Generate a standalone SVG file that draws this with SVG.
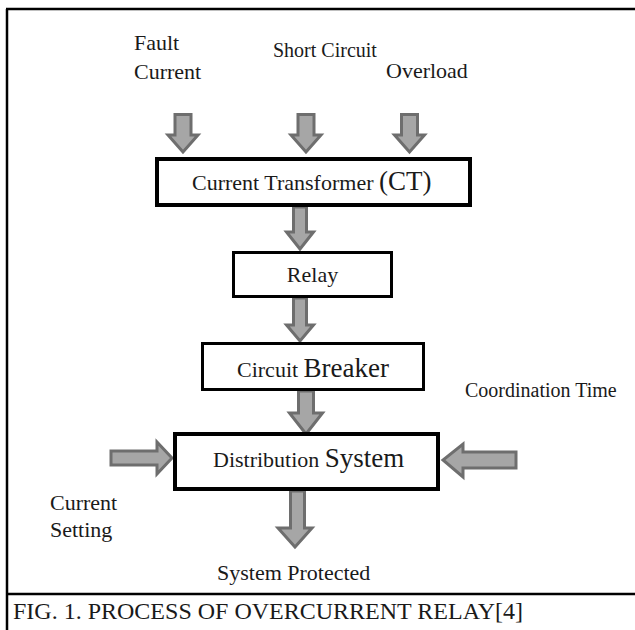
<svg xmlns="http://www.w3.org/2000/svg" width="635" height="630" viewBox="0 0 635 630">
<style>
  text { font-family: "Liberation Serif", "Times New Roman", serif; fill: #1a1a1a; }
  .t22 { font-size: 22px; }
  .t20 { font-size: 20px; }
  .t27 { font-size: 27px; }
  .box { fill: #ffffff; stroke: #000000; }
  .arr { fill: #a6a6a6; stroke: #6e6e6e; stroke-width: 3; stroke-linejoin: miter; }
  .frame { stroke: #000000; stroke-width: 2.5; fill: none; }
</style>
<rect x="0" y="0" width="635" height="630" fill="#ffffff"/>
<g id="frame">
  <line class="frame" x1="7" y1="9" x2="7" y2="630"/>
  <line class="frame" x1="6" y1="9" x2="635" y2="9"/>
  <line class="frame" x1="6" y1="594" x2="635" y2="594"/>
</g>
<g id="connectors">
  <!-- inputs to CT -->
  <path class="arr" d="M175,114.5 H191 V135 H198 L183,152 L168,135 H175 Z"/>
  <path class="arr" d="M298,114.5 H314 V135 H321 L306,152 L291,135 H298 Z"/>
  <path class="arr" d="M401.5,114.5 H417.5 V135 H424.5 L409.5,152 L394.5,135 H401.5 Z"/>
  <!-- CT to Relay -->
  <path class="arr" d="M293.5,207 H306.5 V232 H313.5 L300,249 L286.5,232 H293.5 Z"/>
  <!-- Relay to CB -->
  <path class="arr" d="M293.5,298 H306.5 V325 H313.5 L300,341 L286.5,325 H293.5 Z"/>
  <!-- CB to DS -->
  <path class="arr" d="M298.5,391 H313.5 V413 H322.5 L306,434 L289.5,413 H298.5 Z"/>
  <!-- DS to System Protected -->
  <path class="arr" d="M290.5,491 H304.5 V528 H312 L295,547 L278,528 H290.5 Z"/>
  <!-- Current Setting (left) -->
  <path class="arr" d="M111,451 V465 H157 V474 L172,458 L157,442 V451 Z"/>
  <!-- Coordination Time (right) -->
  <path class="arr" d="M516,452 V468 H463 V477 L443,460 L463,444 V452 Z"/>
</g>
<g id="label-fault-current">
  <text class="t22" x="134" y="50">Fault</text>
  <text class="t22" x="134" y="79">Current</text>
</g>
<g id="label-short-circuit">
  <text class="t20" x="273" y="57">Short Circuit</text>
</g>
<g id="label-overload">
  <text class="t22" x="386" y="78">Overload</text>
</g>
<g id="node-ct">
  <rect class="box" x="157" y="159" width="313" height="46" stroke-width="4"/>
  <text x="192" y="190"><tspan class="t22">Current Transformer </tspan><tspan class="t27">(CT)</tspan></text>
</g>
<g id="node-relay">
  <rect class="box" x="233.5" y="252.5" width="158" height="44" stroke-width="3"/>
  <text class="t22" x="312.5" y="282" text-anchor="middle">Relay</text>
</g>
<g id="node-cb">
  <rect class="box" x="202.5" y="343.5" width="221" height="46" stroke-width="3"/>
  <text x="237" y="377"><tspan class="t22">Circuit </tspan><tspan class="t27">Breaker</tspan></text>
</g>
<g id="label-coordination-time">
  <text class="t20" x="465" y="397">Coordination Time</text>
</g>
<g id="node-ds">
  <rect class="box" x="175" y="434" width="263" height="55" stroke-width="4"/>
  <text x="213" y="467"><tspan class="t22">Distribution </tspan><tspan class="t27">System</tspan></text>
</g>
<g id="label-current-setting">
  <text class="t22" x="50" y="510">Current</text>
  <text class="t22" x="50" y="537">Setting</text>
</g>
<g id="label-system-protected">
  <text class="t22" x="217" y="580">System Protected</text>
</g>
<g id="caption">
  <text x="13" y="619" style="font-size:24px">FIG. 1. PROCESS OF OVERCURRENT RELAY[4]</text>
</g>
</svg>
